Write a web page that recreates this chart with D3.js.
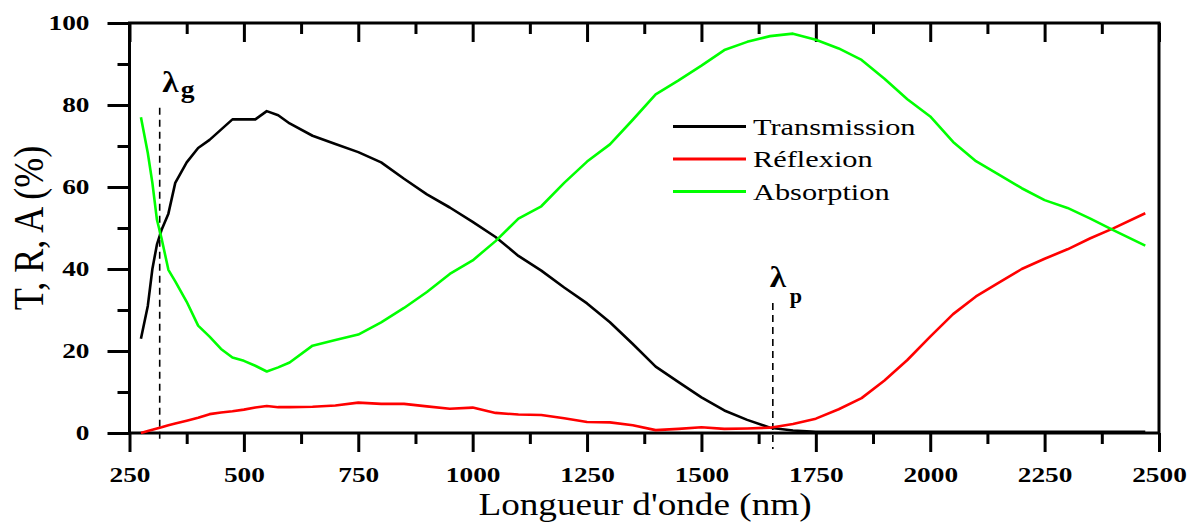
<!DOCTYPE html>
<html>
<head>
<meta charset="utf-8">
<script src="https://cdn.jsdelivr.net/npm/d3@7"></script>
<style>
  body { margin: 0; background: #fff; }
  svg { display: block; }
  svg text { font-family: "Liberation Serif", Tinos, "Times New Roman", Times, serif; }
</style>
</head>
<body>
<svg id="chart" width="1197" height="522"></svg>
<script>
// wavelength (nm) and T, R, A (%)
const wavelength = [275, 290, 300, 310, 320, 335, 350, 375, 400, 425, 450, 475, 500, 525, 550, 575, 600,
  650, 700, 750, 800, 850, 900, 950, 1000, 1050, 1100, 1150, 1200, 1250, 1300, 1350, 1400, 1450, 1500,
  1550, 1600, 1650, 1700, 1750, 1800, 1850, 1900, 1950, 2000, 2050, 2100, 2150, 2200, 2250, 2300, 2350,
  2400, 2470];
const transmission = [23, 31, 40, 46, 49.5, 53.5, 61, 66, 69.5, 71.5, 74, 76.5, 76.5, 76.5, 78.5, 77.5, 75.5,
  72.5, 70.5, 68.5, 66, 62, 58.2, 55, 51.5, 47.8, 43.2, 39.6, 35.5, 31.6, 27, 21.7, 16.2, 12.4, 8.7,
  5.5, 3.2, 1.3, 0.6, 0.3, 0.3, 0.3, 0.3, 0.3, 0.3, 0.3, 0.3, 0.3, 0.3, 0.3, 0.3, 0.3,
  0.3, 0.3];
const reflexion = [0, 0.5, 0.8, 1.1, 1.4, 1.9, 2.3, 3, 3.7, 4.6, 5, 5.3, 5.7, 6.2, 6.6, 6.3, 6.3,
  6.4, 6.7, 7.4, 7.1, 7.1, 6.5, 5.9, 6.2, 4.9, 4.5, 4.4, 3.6, 2.7, 2.6, 1.9, 0.7, 1.0, 1.4,
  1.0, 1.1, 1.3, 2.2, 3.5, 5.8, 8.5, 12.8, 17.8, 23.5, 29, 33.3, 36.7, 40, 42.5, 44.8, 47.5,
  49.9, 53.6];
const absorption = [77, 68.3, 61, 52, 47.5, 39.8, 37, 32, 26.2, 23.5, 20.5, 18.4, 17.6, 16.4, 15, 16, 17.2,
  21.3, 22.7, 24, 27, 30.5, 34.4, 38.8, 42.1, 46.8, 52.3, 55.3, 61, 66.2, 70.4, 76.4, 82.6, 86, 89.6,
  93.4, 95.4, 96.8, 97.4, 95.9, 93.8, 91, 86.4, 81.4, 77.2, 71, 66.3, 63, 59.7, 56.8, 54.9, 52.3,
  49.5, 45.7];

const seriesNames = ['Transmission', 'Réflexion', 'Absorption'];
const seriesColors = ['#000000', '#ff0000', '#00ff00'];

const xTicks = [250, 500, 750, 1000, 1250, 1500, 1750, 2000, 2250, 2500];
const yTicks = [0, 20, 40, 60, 80, 100];

// lambda_g and lambda_p markers
const markWavelength = [316, 1656];
const markTop = [79.3, 31.7];
const markSub = ['g', 'p'];

const svg = d3.select('#chart');
const x = d3.scaleLinear().domain([250, 2500]).range([129.5, 1159]);
const y = d3.scaleLinear().domain([0, 100]).range([433, 23]);
const stretchK = 1.3;   // the scan is widened horizontally

function stretch(sel, k) {
  sel.each(function() {
    const w = this.getComputedTextLength();
    d3.select(this).attr('textLength', w * k).attr('lengthAdjust', 'spacingAndGlyphs');
  });
}

function tidy(g) {
  g.select('.domain').remove();
  g.selectAll('line').attr('stroke', '#000').attr('stroke-width', 3);
  g.attr('font-family', null).attr('font-size', 21).attr('font-weight', 'bold');
}

// bottom axis
svg.append('g').attr('transform', `translate(0,${y(0)})`)
  .call(d3.axisBottom(x).tickValues(d3.range(375, 2500, 250)).tickSize(11).tickFormat(''))
  .call(tidy);
svg.append('g').attr('transform', `translate(0,${y(0)})`)
  .call(d3.axisBottom(x).tickValues(xTicks).tickSize(19).tickFormat(d3.format('d')))
  .call(tidy)
  .call(g => g.selectAll('text').attr('y', 49).attr('dy', null).attr('fill', '#000'));

// top axis, ticks inward
svg.append('g').attr('transform', `translate(0,${y(100)})`)
  .call(d3.axisTop(x).tickValues(d3.range(375, 2500, 250)).tickSize(-11).tickFormat(''))
  .call(tidy);
svg.append('g').attr('transform', `translate(0,${y(100)})`)
  .call(d3.axisTop(x).tickValues(xTicks).tickSize(-19).tickFormat(''))
  .call(tidy);

// left axis
svg.append('g').attr('transform', `translate(${x(250)},0)`)
  .call(d3.axisLeft(y).tickValues(d3.range(10, 100, 20)).tickSize(12).tickFormat(''))
  .call(tidy);
svg.append('g').attr('transform', `translate(${x(250)},0)`)
  .call(d3.axisLeft(y).tickValues(yTicks).tickSize(22))
  .call(tidy)
  .call(g => g.selectAll('text').attr('x', -40).attr('fill', '#000'));

svg.selectAll('.tick text').call(stretch, stretchK);

// frame
svg.append('rect')
  .attr('x', x(250)).attr('y', y(100))
  .attr('width', x(2500) - x(250)).attr('height', y(0) - y(100))
  .attr('fill', 'none').attr('stroke', '#000').attr('stroke-width', 3);

// marker lines
markWavelength.forEach((wl, i) => {
  svg.append('line')
    .attr('x1', x(wl)).attr('x2', x(wl))
    .attr('y1', y(markTop[i])).attr('y2', y(0) + (i === 0 ? 6 : 16))
    .attr('stroke', '#000').attr('stroke-width', 1.6)
    .attr('stroke-dasharray', '7,5');
});

// curves
const series = [transmission, reflexion, absorption];
const line = d3.line().x(d => x(d[0])).y(d => y(d[1]));
series.forEach((vals, i) => {
  svg.append('path')
    .datum(wavelength.map((wl, j) => [wl, vals[j]]))
    .attr('d', line)
    .attr('fill', 'none')
    .attr('stroke', seriesColors[i])
    .attr('stroke-width', 2.6)
    .attr('stroke-linejoin', 'round');
});

// lambda labels
const lamG = x(markWavelength[0]);
const lamP = x(markWavelength[1]);
const lamText = [
  {t: 'λ', x: lamG + 2.5, y: 92, size: 30},
  {t: markSub[0], x: lamG + 21, y: 98, size: 25},
  {t: 'λ', x: lamP - 3, y: 287, size: 30},
  {t: markSub[1], x: lamP + 17, y: 303, size: 20}
];
svg.selectAll('text.lam').data(lamText).join('text')
  .attr('class', 'lam')
  .attr('transform', d => `translate(${d.x},${d.y}) scale(${stretchK * 0.85},1)`)
  .attr('font-weight', 'bold')
  .attr('font-size', d => d.size)
  .text(d => d.t);

// legend
const legend = svg.append('g').attr('transform', 'translate(673,126.5)');
seriesNames.forEach((name, i) => {
  const row = legend.append('g').attr('transform', `translate(0,${i * 32.5})`);
  row.append('line').attr('x1', 0).attr('x2', 73)
    .attr('stroke', seriesColors[i]).attr('stroke-width', 3);
  row.append('text').attr('x', 80).attr('y', 8)
    .attr('font-size', 23)
    .text(name)
    .call(stretch, 1.32);
});

// axis titles
svg.append('text')
  .attr('transform', `translate(43,${(y(0) + y(100)) / 2}) scale(1.2,1) rotate(-90)`)
  .attr('text-anchor', 'middle')
  .attr('font-size', 36)
  .text('T, R, A (%)');

svg.append('text')
  .attr('x', 645).attr('y', 515)
  .attr('text-anchor', 'middle')
  .attr('font-size', 31)
  .text("Longueur d'onde (nm)")
  .call(stretch, 1.2);
</script>
</body>
</html>
